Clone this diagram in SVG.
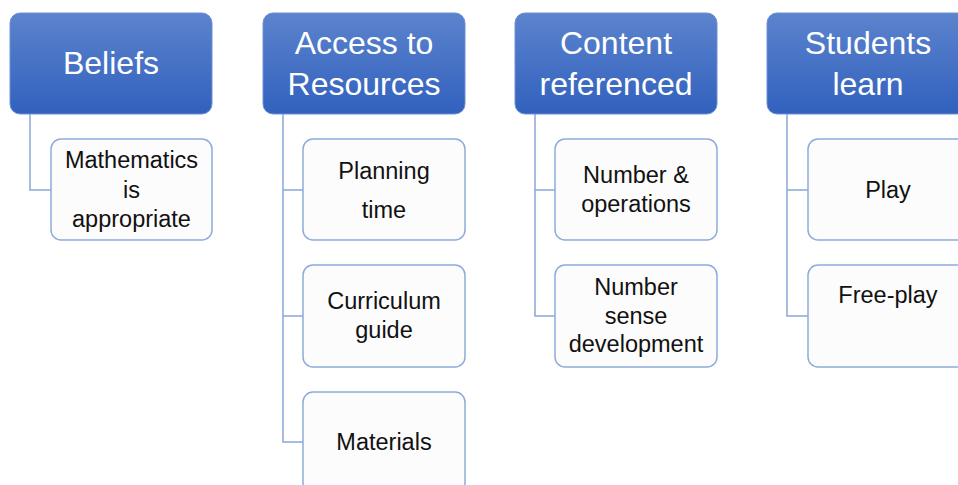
<svg xmlns="http://www.w3.org/2000/svg" width="958" height="485" viewBox="0 0 958 485">
  <defs>
    <linearGradient id="hdrGrad" x1="0" y1="0" x2="0" y2="1">
      <stop offset="0" stop-color="#5c83cd"/>
      <stop offset="1" stop-color="#3161be"/>
    </linearGradient>
  </defs>
  <style>
    .hdr rect { fill: url(#hdrGrad); stroke: #6e90d4; stroke-width: 1; }
    .hdr text { fill: #ffffff; font-family: "Liberation Sans", Arial, sans-serif; font-size: 32px; text-anchor: middle; }
    .child rect { fill: #fcfcfc; stroke: #8eaadc; stroke-width: 1.5; }
    .child text { fill: #111111; font-family: "Liberation Sans", Arial, sans-serif; font-size: 23.5px; text-anchor: middle; }
    .conn path { fill: none; stroke: #8ba6d8; stroke-width: 1.5; }
  </style>
  <rect width="958" height="485" fill="#ffffff"/>

  <g id="connectors" class="conn">
    <path d="M30 114 V190 H51"/>
    <path d="M283 114 V442 H303 M283 190 H303 M283 316 H303"/>
    <path d="M535 114 V316 H555 M535 190 H555"/>
    <path d="M787 114 V316 H808 M787 190 H808"/>
  </g>

  <g id="beliefs" class="hdr">
    <rect x="10" y="13" width="202" height="101" rx="10"/>
    <text x="111" y="74">Beliefs</text>
  </g>
  <g id="access" class="hdr">
    <rect x="263" y="13" width="202" height="101" rx="10"/>
    <text x="364" y="54">Access to</text>
    <text x="364" y="95">Resources</text>
  </g>
  <g id="content" class="hdr">
    <rect x="515" y="13" width="202" height="101" rx="10"/>
    <text x="616" y="54">Content</text>
    <text x="616" y="95">referenced</text>
  </g>
  <g id="students" class="hdr">
    <rect x="767" y="13" width="202" height="101" rx="10"/>
    <text x="868" y="54">Students</text>
    <text x="868" y="95">learn</text>
  </g>

  <g id="math-appropriate" class="child">
    <rect x="51" y="139" width="161" height="101" rx="10"/>
    <text x="131.5" y="168">Mathematics</text>
    <text x="131.5" y="197.5">is</text>
    <text x="131.5" y="227">appropriate</text>
  </g>
  <g id="planning-time" class="child">
    <rect x="303" y="139" width="162" height="101" rx="10"/>
    <text x="384" y="179">Planning</text>
    <text x="384" y="218">time</text>
  </g>
  <g id="curriculum-guide" class="child">
    <rect x="303" y="265" width="162" height="102" rx="10"/>
    <text x="384" y="309">Curriculum</text>
    <text x="384" y="338">guide</text>
  </g>
  <g id="materials" class="child">
    <rect x="303" y="392" width="162" height="101" rx="10"/>
    <text x="384" y="450">Materials</text>
  </g>
  <g id="number-operations" class="child">
    <rect x="555" y="139" width="162" height="101" rx="10"/>
    <text x="636" y="183">Number &amp;</text>
    <text x="636" y="212">operations</text>
  </g>
  <g id="number-sense" class="child">
    <rect x="555" y="265" width="162" height="102" rx="10"/>
    <text x="636" y="295">Number</text>
    <text x="636" y="323.5">sense</text>
    <text x="636" y="352">development</text>
  </g>
  <g id="play" class="child">
    <rect x="808" y="139" width="161" height="101" rx="10"/>
    <text x="888" y="198">Play</text>
  </g>
  <g id="free-play" class="child">
    <rect x="808" y="265" width="161" height="102" rx="10"/>
    <text x="888" y="303">Free-play</text>
  </g>
</svg>
